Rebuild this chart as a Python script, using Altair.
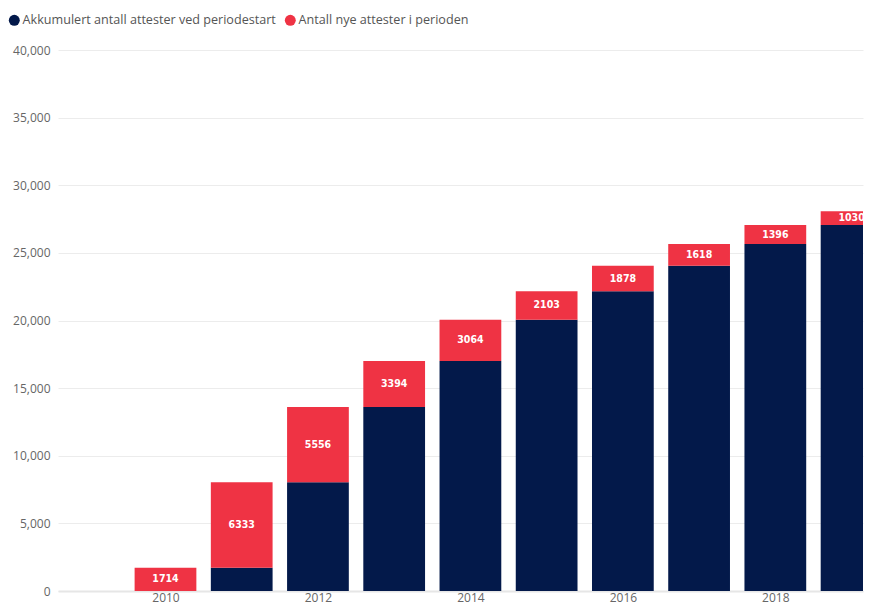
import altair as alt
import pandas as pd

years = [2010, 2011, 2012, 2013, 2014, 2015, 2016, 2017, 2018, 2019]
accumulated = [0, 1714, 8047, 13603, 16997, 20061, 22164, 24042, 25660, 27056]
new_certs = [1714, 6333, 5556, 3394, 3064, 2103, 1878, 1618, 1396, 1030]
series_names = ["Akkumulert antall attester ved periodestart", "Antall nye attester i perioden"]
series_colors = ["#03194a", "#ef3344"]
x_tick_labels = [2010, 2012, 2014, 2016, 2018]
y_ticks = [0, 5000, 10000, 15000, 20000, 25000, 30000, 35000, 40000]

df = pd.DataFrame({"year": years, "acc": accumulated, "new": new_certs})

FONT = "Open Sans"
xscale = alt.Scale(domain=[2008.59, 2019.15], nice=False, zero=False)
yscale = alt.Scale(domain=[0, 40000], nice=False)

xaxis = alt.Axis(values=x_tick_labels, format="d", title=None, ticks=False,
                 grid=False, domainColor="#e6e6e6", domainWidth=2,
                 labelColor="#666666", labelFontSize=12, labelFont=FONT,
                 labelPadding=1)
yaxis = alt.Axis(values=y_ticks, format=",.0f", title=None, ticks=False,
                 domain=False, gridColor="#ececec", labelColor="#666666",
                 labelFontSize=12, labelFont=FONT, labelPadding=8)

bars = (
    alt.Chart(df)
    .transform_fold(["acc", "new"], as_=["key", "value"])
    .transform_calculate(
        series=f"datum.key == 'acc' ? '{series_names[0]}' : '{series_names[1]}'",
        lo="datum.key == 'acc' ? 0 : datum.acc",
        hi="datum.key == 'acc' ? datum.acc : datum.acc + datum.new",
        x0="datum.year - 0.405",
        x1="datum.year + 0.405",
    )
    .mark_bar(clip=True)
    .encode(
        x=alt.X("x0:Q", scale=xscale, axis=xaxis),
        x2="x1:Q",
        y=alt.Y("lo:Q", scale=yscale, axis=yaxis),
        y2="hi:Q",
        color=alt.Color("series:N",
                        scale=alt.Scale(domain=series_names, range=series_colors),
                        legend=alt.Legend(title=None, orient="none", direction="horizontal",
                                          legendX=-50, legendY=-36, symbolType="circle",
                                          symbolSize=120, symbolStrokeWidth=0,
                                          labelFontSize=12.6, labelFont=FONT, labelLimit=0,
                                          labelColor="#555555", columnPadding=8,
                                          labelOffset=2)),
        order=alt.Order("key:N"),
    )
)

labels = (
    alt.Chart(df)
    .transform_calculate(mid="datum.acc + datum.new / 2")
    .mark_text(color="white", font="DejaVu Sans Condensed",
               fontWeight="bold", fontSize=10.5)
    .encode(
        x=alt.X("year:Q", scale=xscale, axis=xaxis),
        y=alt.Y("mid:Q", scale=yscale, axis=yaxis),
        text=alt.Text("new:Q", format="d"),
    )
)

chart = (
    alt.layer(bars, labels)
    .properties(width=805, height=541, autosize="none",
                padding={"left": 50, "top": 42, "right": 4, "bottom": 14})
    .configure_view(stroke=None)
)

chart.save("out.html", embed_options={"renderer": "svg", "actions": False})
